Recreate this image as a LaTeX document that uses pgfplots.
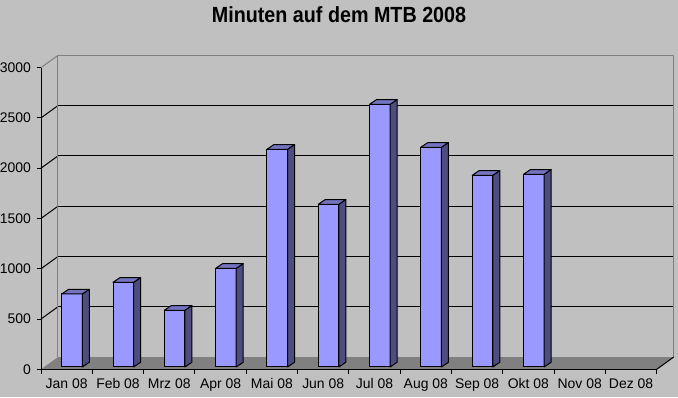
\documentclass[border=0pt]{standalone}
\usepackage{pgfplots}
\pgfplotsset{compat=1.18}
\usepackage{pgfplotstable}
\usepackage{fontspec}
\setmainfont{Liberation Sans}
\newfontfamily\titlefont[FakeStretch=0.9]{Liberation Sans}
\definecolor{bg}{HTML}{C0C0C0}
\definecolor{wallline}{HTML}{808080}
\definecolor{floorc}{HTML}{808080}
\definecolor{barfront}{HTML}{9999FF}
\definecolor{barside}{HTML}{4D4D80}
\definecolor{bartop}{HTML}{7373BF}

\pgfplotstableread{
idx v
0 726
1 842
2 564
3 981
4 2165
5 1618
6 2612
7 2185
8 1906
9 1916
}\data

\begin{document}
\begin{tikzpicture}[x=1bp,y=1bp]
\useasboundingbox (0,0) rectangle (678,397);
\fill[bg] (0,0) rectangle (678,397);
\node[font=\titlefont\bfseries\fontsize{22}{24}\selectfont, anchor=base] at (339,375) {Minuten auf dem MTB 2008};
\begin{axis}[
  at={(41bp,27.7bp)}, anchor=south west,
  scale only axis, width=615.7bp, height=301.7bp,
  xmin=-0.5, xmax=11.5, ymin=0, ymax=3000,
  clip=false,
  axis x line*=bottom, axis y line*=left,
  axis line style={black, line width=1bp},
  axis on top=true,
  ytick={0,500,...,3000},
  xtick={-0.5,0.5,...,11.5},
  xticklabels={},
  extra x ticks={0,1,...,11},
  extra x tick labels={Jan 08,Feb 08,Mrz 08,Apr 08,Mai 08,Jun 08,Jul 08,Aug 08,Sep 08,Okt 08,Nov 08,Dez 08},
  extra x tick style={major tick length=0pt},
  tick align=outside,
  major tick length=4.5bp,
  tick style={black, line width=1bp},
  ticklabel style={font=\fontsize{14}{16}\selectfont},
  xticklabel style={yshift=-6bp},
  yticklabel style={xshift=-2bp},
  /pgf/number format/assume math mode=true,
  /pgf/number format/1000 sep={},
]
% back wall gridlines
\pgfplotsinvokeforeach{500,1000,1500,2000,2500}{
  \pgfmathsetmacro\gy{#1+122}
  \edef\cmd{\noexpand\addplot[black, line width=1bp] coordinates {(-0.169,\gy) (11.831,\gy)};
    \noexpand\addplot[black, line width=1bp] coordinates {(-0.5,#1) (-0.169,\gy)};}
  \cmd
}
% back wall border
\addplot[wallline, line width=1bp] coordinates {(-0.169,122) (-0.169,3122) (11.831,3122) (11.831,122)};
\addplot[wallline, line width=1bp] coordinates {(-0.5,3000) (-0.169,3122)};
% floor
\addplot[fill=floorc, draw=none] coordinates {(-0.5,0) (11.5,0) (11.831,122) (-0.169,122)} -- cycle;
\addplot[black, line width=1bp] coordinates {(11.5,0) (11.831,122)};
% bars
\pgfplotsinvokeforeach{0,...,9}{
  \pgfplotstablegetelem{#1}{v}\of\data
  \let\val\pgfplotsretval
  \pgfmathsetmacro\xl{#1-0.096}
  \pgfmathsetmacro\xr{#1+0.305}
  \pgfmathsetmacro\xlb{#1-0.096+0.136}
  \pgfmathsetmacro\xrb{#1+0.305+0.136}
  \pgfmathsetmacro\yt{\val+23}
  \pgfmathsetmacro\ytb{\val+70}
  \edef\cmd{%
    \noexpand\addplot[fill=barfront, draw=black, line width=1bp, line join=round] coordinates {(\xl,23) (\xr,23) (\xr,\yt) (\xl,\yt)} -- cycle;
    \noexpand\addplot[fill=barside, draw=black, line width=1bp, line join=round] coordinates {(\xr,23) (\xrb,70) (\xrb,\ytb) (\xr,\yt)} -- cycle;
    \noexpand\addplot[fill=bartop, draw=black, line width=1bp, line join=round] coordinates {(\xl,\yt) (\xr,\yt) (\xrb,\ytb) (\xlb,\ytb)} -- cycle;
  }
  \cmd
}
\end{axis}
\end{tikzpicture}
\end{document}
